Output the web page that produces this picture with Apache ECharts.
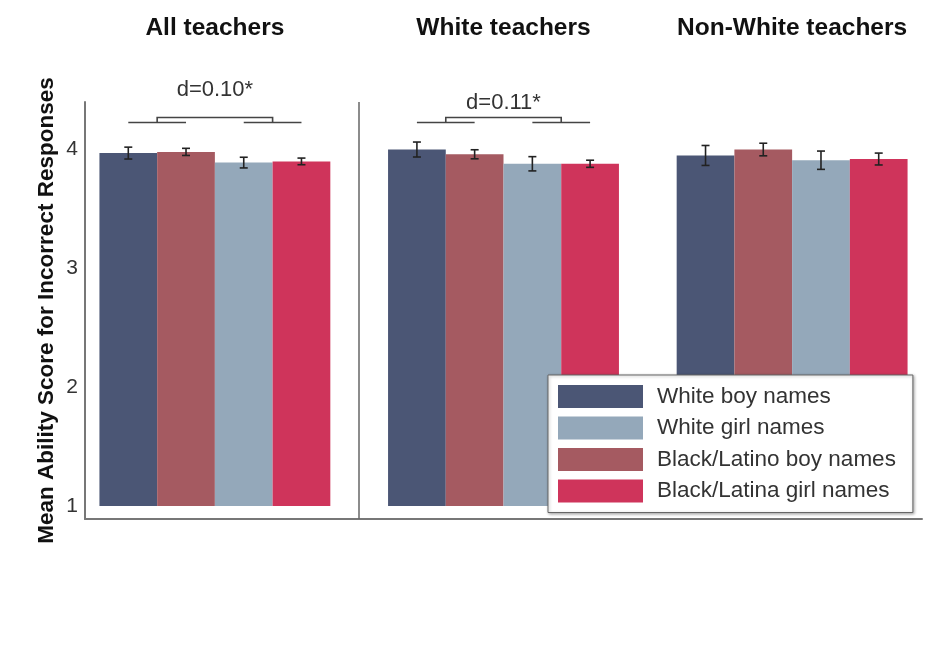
<!DOCTYPE html>
<html>
<head>
<meta charset="utf-8">
<script src="https://cdn.jsdelivr.net/npm/echarts@6/dist/echarts.min.js"></script>
<style>
  html, body { margin: 0; padding: 0; background: #fff; }
  #chart { width: 935px; height: 654px; }
</style>
</head>
<body>
<div id="chart"></div>
<script>
// panels (teacher groups) and name groups
const panels = ['All teachers', 'White teachers', 'Non-White teachers'];
const yTicks = [1, 2, 3, 4];

// means and error bar half-widths, one value per panel
const whiteBoy = [3.97, 4.00, 3.95];
const whiteBoyErr = [0.05, 0.063, 0.084];
const blackBoy = [3.98, 3.96, 4.00];
const blackBoyErr = [0.03, 0.038, 0.053];
const whiteGirl = [3.89, 3.88, 3.91];
const whiteGirlErr = [0.045, 0.06, 0.077];
const blackGirl = [3.90, 3.88, 3.92];
const blackGirlErr = [0.028, 0.03, 0.05];

// effect size brackets (panel index, lower line, upper line, text height)
const dPanels = [0, 1];
const dLabels = ['d=0.10*', 'd=0.11*'];
const dLow = [4.227, 4.227];
const dHigh = [4.27, 4.27];
const dText = [4.50, 4.39];

const baseValue = 1;
const groupShare = 0.8;
const nBars = 4;

const groups = [
  { name: 'White boy names', color: '#4b5675', vals: whiteBoy, errs: whiteBoyErr },
  { name: 'Black/Latino boy names', color: '#a55a61', vals: blackBoy, errs: blackBoyErr },
  { name: 'White girl names', color: '#94a8ba', vals: whiteGirl, errs: whiteGirlErr },
  { name: 'Black/Latina girl names', color: '#cf345b', vals: blackGirl, errs: blackGirlErr }
];

function barRender(pos, color) {
  return function (params, api) {
    const x = api.value(0), v = api.value(1), e = api.value(2);
    const band = api.size([1, 0])[0];
    const bw = band * groupShare / nBars;
    const cx = api.coord([x, baseValue])[0] + (pos - (nBars - 1) / 2) * bw;
    const top = api.coord([x, v])[1];
    const base = api.coord([x, baseValue])[1];
    const hi = api.coord([x, v + e])[1];
    const lo = api.coord([x, v - e])[1];
    const cap = 4;
    const st = { stroke: '#222', lineWidth: 1.6 };
    return {
      type: 'group',
      children: [
        { type: 'rect', shape: { x: cx - bw / 2, y: top, width: bw, height: base - top }, style: { fill: color } },
        { type: 'line', shape: { x1: cx, y1: hi, x2: cx, y2: lo }, style: st },
        { type: 'line', shape: { x1: cx - cap, y1: hi, x2: cx + cap, y2: hi }, style: st },
        { type: 'line', shape: { x1: cx - cap, y1: lo, x2: cx + cap, y2: lo }, style: st }
      ]
    };
  };
}

function bracketRender(params, api) {
  const x = api.value(0);
  const band = api.size([1, 0])[0];
  const bw = band * groupShare / nBars;
  const c = api.coord([x, baseValue])[0];
  const centers = [0, 1, 2, 3].map(i => c + (i - 1.5) * bw);
  const yLow = api.coord([x, api.value(1)])[1];
  const yHigh = api.coord([x, api.value(2)])[1];
  const yText = api.coord([x, api.value(3)])[1];
  const st = { stroke: '#444', lineWidth: 1.6 };
  const m1 = (centers[0] + centers[1]) / 2;
  const m2 = (centers[2] + centers[3]) / 2;
  return {
    type: 'group',
    children: [
      { type: 'line', shape: { x1: centers[0], y1: yLow, x2: centers[1], y2: yLow }, style: st },
      { type: 'line', shape: { x1: centers[2], y1: yLow, x2: centers[3], y2: yLow }, style: st },
      { type: 'polyline', shape: { points: [[m1, yLow], [m1, yHigh], [m2, yHigh], [m2, yLow]] }, style: Object.assign({ fill: null }, st) },
      { type: 'text', x: c, y: yText, style: { text: dLabels[params.dataIndex], fill: '#333', font: '22px "Liberation Sans", Arial, sans-serif', align: 'center', verticalAlign: 'middle' } }
    ]
  };
}

const chart = echarts.init(document.getElementById('chart'));

const series = groups.map((g, i) => ({
  name: g.name,
  type: 'custom',
  clip: false,
  itemStyle: { color: g.color },
  renderItem: barRender(i, g.color),
  encode: { x: 0, y: 1 },
  data: g.vals.map((v, k) => [k, v, g.errs[k]])
}));

series.push({
  name: 'brackets',
  type: 'custom',
  clip: false,
  renderItem: bracketRender,
  encode: { x: 0, y: 2 },
  data: dPanels.map((p, k) => [p, dLow[k], dHigh[k], dText[k]]),
  markLine: {
    silent: true,
    symbol: 'none',
    label: { show: false },
    lineStyle: { color: '#666', width: 1.5, type: 'solid' },
    data: [{ xAxis: 0.5 }]
  }
});

chart.setOption({
  animation: false,
  backgroundColor: '#fff',
  textStyle: { fontFamily: '"Liberation Sans", Arial, sans-serif' },
  grid: { left: 85, right: 13, top: 102, bottom: 135 },
  legend: {
    orient: 'vertical',
    left: 548,
    top: 375,
    data: ['White boy names', 'White girl names', 'Black/Latino boy names', 'Black/Latina girl names'],
    icon: 'rect',
    itemWidth: 85,
    itemHeight: 23,
    itemGap: 8.5,
    padding: [10, 17, 10, 10],
    backgroundColor: '#fff',
    borderColor: '#666',
    borderWidth: 1,
    shadowColor: 'rgba(0,0,0,0.3)',
    shadowBlur: 3,
    shadowOffsetX: 1,
    shadowOffsetY: 1,
    textStyle: { fontSize: 22.5, color: '#333', padding: [0, 0, 0, 9] }
  },
  xAxis: [
    {
      type: 'value',
      min: -0.45,
      max: 2.45,
      position: 'bottom',
      axisLine: { show: true, onZero: false, lineStyle: { color: '#777', width: 2 } },
      axisTick: { show: false },
      axisLabel: { show: false },
      splitLine: { show: false }
    },
    {
      type: 'value',
      min: -0.45,
      max: 2.45,
      position: 'top',
      axisLine: { show: false, onZero: false },
      axisTick: { show: false },
      splitLine: { show: false },
      axisLabel: {
        customValues: [0, 1, 2],
        formatter: v => panels[Math.round(v)],
        fontSize: 24.5,
        fontWeight: 'bold',
        color: '#111',
        margin: 61.5
      }
    }
  ],
  yAxis: {
    type: 'value',
    min: 0.89,
    max: 4.4,
    name: 'Mean Ability Score for Incorrect Responses',
    nameLocation: 'middle',
    nameGap: 27,
    nameMoveOverlap: false,
    nameTextStyle: { fontSize: 22.5, fontWeight: 'bold', color: '#111' },
    axisLine: { show: true, onZero: false, lineStyle: { color: '#777', width: 2 } },
    axisTick: { show: false },
    splitLine: { show: false },
    axisLabel: { customValues: yTicks, fontSize: 21, color: '#333', margin: 7 }
  },
  series: series
});
</script>
</body>
</html>
